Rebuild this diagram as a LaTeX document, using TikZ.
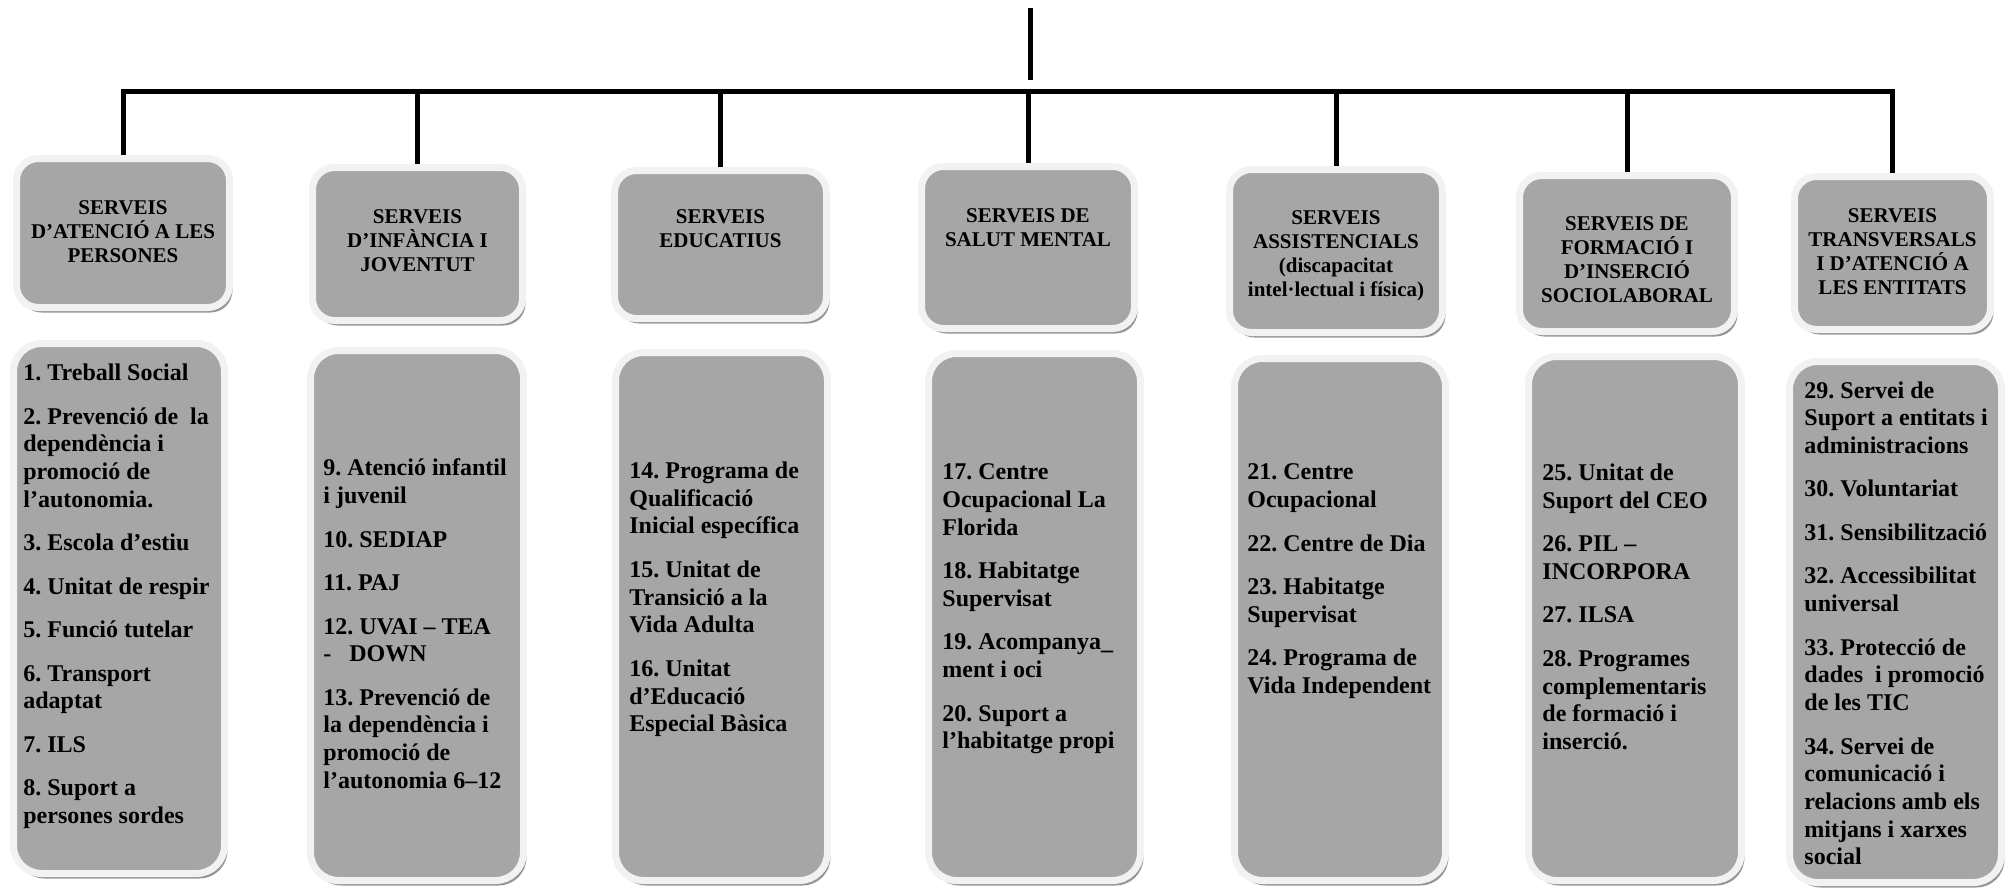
\documentclass[tikz,border=0pt]{standalone}
\usepackage{fontspec}
\setmainfont{Liberation Serif}
\usetikzlibrary{shadows}
\definecolor{boxgray}{RGB}{166,166,166}
\definecolor{ringgray}{RGB}{242,242,242}
\definecolor{shadegray}{RGB}{150,150,150}
\frenchspacing
% Space between two entries of a list
\newcommand{\nextitem}{\\[7.9pt]}
\tikzset{
  % Connector lines
  conn/.style={draw=black, line width=2.5pt},
  % General box
  box/.style={draw=ringgray, fill=boxgray, line width=3.5pt,
    drop shadow={shadow xshift=1.5pt, shadow yshift=-2.5pt,
      fill=shadegray, opacity=1}},
  % Area box
  hbox/.style={box, rounded corners=11pt},
  % List box
  lbox/.style={box, rounded corners=14pt},
  % Area title
  htext/.style={anchor=north, align=center, inner sep=0pt,
    font=\fontsize{10.5}{12}\selectfont\bfseries},
  % List text
  ltext/.style={anchor=north west, align=left, inner sep=0pt,
    font=\fontsize{12}{13.85}\selectfont\bfseries},
}

\begin{document}
\begin{tikzpicture}[x=0.5pt, y=-0.5pt]
  \useasboundingbox (0,0) rectangle (2015,889);

  % Area boxes
  \node[hbox, minimum width=106.5pt, minimum height=74.5pt] (h1) at (123,233) {};
  \node[hbox, minimum width=105pt, minimum height=76.5pt] (h2) at (417.5,244) {};
  \node[hbox, minimum width=106pt, minimum height=74pt] (h3) at (720.5,244.5) {};
  \node[hbox, minimum width=106.5pt, minimum height=81pt] (h4) at (1028,247.5) {};
  \node[hbox, minimum width=106.5pt, minimum height=81.5pt] (h5) at (1336,251) {};
  \node[hbox, minimum width=107.5pt, minimum height=78pt] (h6) at (1627,253.5) {};
  \node[hbox, minimum width=98pt, minimum height=76.5pt] (h7) at (1892.5,253) {};

  % List boxes
  \node[lbox, minimum width=105.5pt, minimum height=265pt] (c1) at (119,608.5) {};
  \node[lbox, minimum width=106.5pt, minimum height=265pt] (c2) at (417,615.5) {};
  \node[lbox, minimum width=106pt, minimum height=264pt] (c3) at (721.5,616.5) {};
  \node[lbox, minimum width=106pt, minimum height=263.5pt] (c4) at (1034.5,617) {};
  \node[lbox, minimum width=105.5pt, minimum height=261pt] (c5) at (1340,619.5) {};
  \node[lbox, minimum width=106.5pt, minimum height=262pt] (c6) at (1635,618.5) {};
  \node[lbox, minimum width=106pt, minimum height=260.5pt] (c7) at (1895.5,622) {};

  % Tree
  \coordinate (top) at (1030,8);
  \coordinate (topend) at (1030,80);
  \coordinate (bar) at (1030,91);
  \draw[conn] (top) -- (topend);
  \draw[conn] (h1.north) |- (bar) -| (h7.north);
  \foreach \i in {2,...,6}
    \draw[conn] (h\i.north) -- (h\i.north |- bar);

  % Area titles
  \node[htext] (g1) at (123,200) {SERVEIS\\D’ATENCIÓ A LES\\PERSONES};
  \node[htext] (g2) at (417.5,209) {SERVEIS\\D’INFÀNCIA I\\JOVENTUT};
  \node[htext] (g3) at (720.5,209) {SERVEIS\\EDUCATIUS};
  \node[htext] (g4) at (1028,208) {SERVEIS DE\\SALUT MENTAL};
  \node[htext] (g5) at (1336,210) {SERVEIS\\ASSISTENCIALS\\(discapacitat\\intel·lectual i física)};
  \node[htext] (g6) at (1627,216) {SERVEIS DE\\FORMACIÓ I\\D’INSERCIÓ\\SOCIOLABORAL};
  \node[htext] (g7) at (1892.5,208) {SERVEIS\\TRANSVERSALS\\I D’ATENCIÓ A\\LES ENTITATS};

  % Lists
  \node[ltext] (t1) at (23,363.5) {1. Treball Social\nextitem
    2. Prevenció de~ la\\dependència i\\promoció de\\l’autonomia.\nextitem
    3. Escola d’estiu\nextitem
    4. Unitat de respir\nextitem
    5. Funció tutelar\nextitem
    6. Transport\\adaptat\nextitem
    7. ILS\nextitem
    8. Suport a\\persones sordes};
  \node[ltext] (t2) at (323,458.5) {9. Atenció infantil\\i juvenil\nextitem
    10. SEDIAP\nextitem
    11. PAJ\nextitem
    12. UVAI – TEA\\-~~~DOWN\nextitem
    13. Prevenció de\\la dependència i\\promoció de\\l’autonomia 6–12};
  \node[ltext] (t3) at (629,461.5) {14. Programa de\\Qualificació\\Inicial específica\nextitem
    15. Unitat de\\Transició a la\\Vida Adulta\nextitem
    16. Unitat\\d’Educació\\Especial Bàsica};
  \node[ltext] (t4) at (942,463.5) {17. Centre\\Ocupacional La\\Florida\nextitem
    18. Habitatge\\Supervisat\nextitem
    19. Acompanya\_\\ment i oci\nextitem
    20. Suport a\\l’habitatge propi};
  \node[ltext] (t5) at (1247,463.5) {21. Centre\\Ocupacional\nextitem
    22. Centre de Dia\nextitem
    23. Habitatge\\Supervisat\nextitem
    24. Programa de\\Vida Independent};
  \node[ltext] (t6) at (1542,463.5) {25. Unitat de\\Suport del CEO\nextitem
    26. PIL –\\INCORPORA\nextitem
    27. ILSA\nextitem
    28. Programes\\complementaris\\de formació i\\inserció.};
  \node[ltext] (t7) at (1804,381) {29. Servei de\\Suport a entitats i\\administracions\nextitem
    30. Voluntariat\nextitem
    31. Sensibilització\nextitem
    32. Accessibilitat\\universal\nextitem
    33. Protecció de\\dades~ i promoció\\de les TIC\nextitem
    34. Servei de\\comunicació i\\relacions amb els\\mitjans i xarxes\\social};
\end{tikzpicture}
\end{document}
